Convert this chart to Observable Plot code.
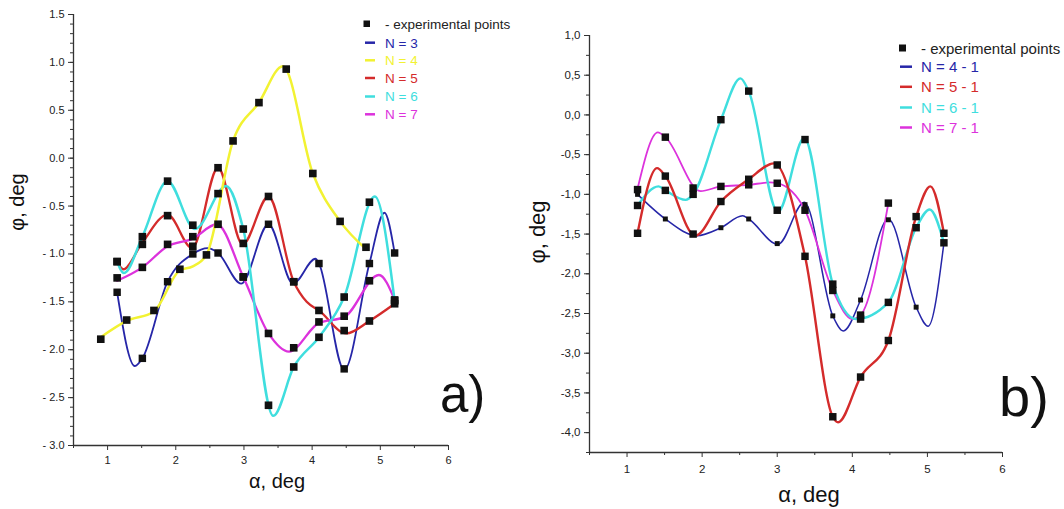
<!DOCTYPE html>
<html><head><meta charset="utf-8">
<script src="https://cdn.jsdelivr.net/npm/d3@7"></script>
<script src="https://cdn.jsdelivr.net/npm/@observablehq/plot@0.6"></script>
<style>
html,body{margin:0;padding:0;background:#fff;}
#wrap{position:relative;width:1064px;height:509px;overflow:hidden;font-family:"Liberation Sans",Arial,sans-serif;}
#pa{position:absolute;left:0;top:0;}
#pb{position:absolute;left:530px;top:0;}
#ov{position:absolute;left:0;top:0;}
</style></head><body>
<div id="wrap"><div id="pa"></div><div id="pb"></div><svg id="ov" width="1064" height="509"></svg></div>
<script>
// ---------- Panel a: experimental points ----------
const anglesA = [1.14, 1.51, 1.88, 2.25, 2.62, 2.99, 3.36, 3.73, 4.10, 4.47, 4.84, 5.21];
const anglesA4 = [0.90, 1.28, 1.68, 2.06, 2.45, 2.84, 3.22, 3.62, 4.01, 4.41, 4.79];
const ptsA_N3 = [-1.40, -2.09, -1.29, -1.00, -0.99, -1.24, -0.69, -1.29, -1.10, -2.20, -1.10, -0.99];
const ptsA_N4 = [-1.89, -1.69, -1.59, -1.16, -1.01, 0.18, 0.58, 0.93, -0.16, -0.66, -0.93];
const ptsA_N5 = [-1.08, -0.90, -0.60, -0.92, -0.10, -0.89, -0.40, -1.29, -1.59, -1.80, -1.70, -1.52];
const ptsA_N6 = [-1.08, -0.82, -0.24, -0.70, -0.37, -0.74, -2.58, -2.18, -1.87, -1.45, -0.46, -1.49];
const ptsA_N7 = [-1.25, -1.14, -0.90, -0.82, -0.69, -1.24, -1.83, -1.98, -1.71, -1.65, -1.28, -1.48];

// ---------- Panel a: fitted curves (knots) ----------
const curveA_N3 = [[1.14,-1.40],[1.40,-2.17],[1.51,-2.09],[1.88,-1.29],[2.25,-1.00],[2.47,-0.94],[2.62,-0.99],[2.96,-1.31],[3.36,-0.69],[3.72,-1.31],[4.05,-1.05],[4.10,-1.10],[4.47,-2.21],[4.84,-1.10],[5.06,-0.57],[5.21,-0.99]];
const curveA_N4 = [[0.90,-1.87],[1.28,-1.70],[1.68,-1.60],[2.06,-1.17],[2.25,-1.13],[2.45,-1.01],[2.84,0.18],[3.22,0.58],[3.57,0.96],[4.01,-0.16],[4.41,-0.66],[4.79,-0.95]];
const curveA_N5 = [[1.14,-1.08],[1.23,-1.16],[1.51,-0.88],[1.88,-0.59],[2.24,-0.94],[2.62,-0.10],[2.98,-0.90],[3.36,-0.40],[3.73,-1.29],[3.92,-1.50],[4.10,-1.59],[4.50,-1.83],[4.84,-1.70],[5.21,-1.52]];
const curveA_N6 = [[1.14,-1.08],[1.24,-1.20],[1.51,-0.82],[1.88,-0.24],[2.28,-0.74],[2.74,-0.29],[2.99,-0.74],[3.43,-2.69],[3.73,-2.18],[4.10,-1.87],[4.47,-1.45],[4.92,-0.40],[5.21,-1.49]];
const curveA_N7 = [[1.14,-1.28],[1.51,-1.14],[1.88,-0.92],[2.25,-0.84],[2.60,-0.69],[2.99,-1.24],[3.36,-1.83],[3.66,-2.02],[4.10,-1.72],[4.47,-1.66],[4.98,-1.22],[5.21,-1.48]];

// ---------- Panel b: experimental points ----------
const anglesB = [1.14, 1.51, 1.88, 2.25, 2.62, 3.00, 3.37, 3.74, 4.11, 4.48, 4.85, 5.22];
const ptsB_N4 = [-1.00, -1.31, -1.50, -1.42, -1.31, -1.62, -1.13, -2.53, -2.33, -1.32, -2.42, -1.61];
const ptsB_N5 = [-1.49, -0.77, -1.50, -1.09, -0.81, -0.63, -1.78, -3.80, -3.30, -2.84, -1.28, -1.49];
const ptsB_N6 = [-1.14, -0.95, -1.00, -0.06, 0.30, -1.20, -0.31, -2.13, -2.57, -2.36, -1.42, -1.61];
const ptsB_N7 = [-0.94, -0.28, -0.92, -0.90, -0.88, -0.86, -1.20, -2.21, -2.52, -1.11];

// ---------- Panel b: fitted curves ----------
const curveB_N4 = [[1.14,-1.00],[1.51,-1.31],[1.93,-1.52],[2.25,-1.42],[2.54,-1.27],[2.62,-1.31],[3.01,-1.63],[3.36,-1.10],[3.74,-2.53],[3.88,-2.72],[4.11,-2.33],[4.48,-1.31],[4.85,-2.42],[5.01,-2.66],[5.22,-1.61]];
const curveB_N5 = [[1.14,-1.49],[1.40,-0.67],[1.51,-0.77],[1.91,-1.52],[2.25,-1.09],[2.62,-0.81],[2.96,-0.61],[3.37,-1.78],[3.74,-3.80],[3.81,-3.87],[4.11,-3.30],[4.48,-2.84],[4.85,-1.28],[5.04,-0.90],[5.22,-1.49]];
const curveB_N6 = [[1.14,-1.14],[1.42,-0.90],[1.51,-0.95],[1.78,-1.07],[1.88,-1.00],[2.25,-0.06],[2.51,0.46],[2.62,0.30],[3.01,-1.22],[3.36,-0.29],[3.74,-2.13],[4.05,-2.57],[4.48,-2.36],[4.85,-1.42],[5.03,-1.19],[5.22,-1.61]];
const curveB_N7 = [[1.14,-0.93],[1.41,-0.22],[1.51,-0.28],[1.98,-0.96],[2.25,-0.90],[2.62,-0.88],[2.90,-0.85],[3.00,-0.86],[3.37,-1.20],[3.74,-2.21],[4.00,-2.57],[4.11,-2.52],[4.48,-1.11]];

// ---------- Labels / ticks ----------
const legendA = ["N = 3", "N = 4", "N = 5", "N = 6", "N = 7"];
const legendB = ["N = 4 - 1", "N = 5 - 1", "N = 6 - 1", "N = 7 - 1"];
const pointsLabel = "- experimental points";
const colorsA = ["#2626a8", "#f2f232", "#d42b2b", "#3fdede", "#dc32dc"];
const colorsB = ["#2626a8", "#d42b2b", "#3fdede", "#dc32dc"];
const xTicks = [1, 2, 3, 4, 5, 6];
const xTickLabels = ["1", "2", "3", "4", "5", "6"];
const xMinor = [0.5, 1.5, 2.5, 3.5, 4.5, 5.5];
const yTicksA = [1.5, 1.0, 0.5, 0, -0.5, -1.0, -1.5, -2.0, -2.5, -3.0];
const yTickLabelsA = ["1.5", "1.0", "0.5", "0.0", "- 0.5", "- 1.0", "- 1.5", "- 2.0", "- 2.5", "- 3.0"];
const yTicksB = [1.0, 0.5, 0, -0.5, -1.0, -1.5, -2.0, -2.5, -3.0, -3.5, -4.0];
const yTickLabelsB = ["1,0", "0,5", "0,0", "-0,5", "-1,0", "-1,5", "-2,0", "-2,5", "-3,0", "-3,5", "-4,0"];
const xTitle = "α, deg";
const yTitle = "φ, deg";

const yMinorA = d3.range(-30, 16, 1).map(v => v / 10);
const yMinorB = d3.range(-17, 5, 1).map(v => v / 4);

const toPts = (xs, ys) => ys.map((y, i) => ({x: xs[i], y}));
const lab = (ticks, labels) => v => labels[ticks.findIndex(t => Math.abs(t - v) < 1e-9)];
const font = "Liberation Sans, Arial, sans-serif";

function axes(yTicks, yLabels, yMinor, xMin, yMin, xPad) {
  return [
    Plot.axisY(yMinor, {tickSize: 3, fill: "none", stroke: "#333"}),
    Plot.axisY(yTicks, {tickSize: 5, tickPadding: 4, tickFormat: lab(yTicks, yLabels), stroke: "#333", fill: "#222"}),
    Plot.axisX(xMinor, {tickSize: 3, fill: "none", stroke: "#333"}),
    Plot.axisX(xTicks, {tickSize: 5, tickPadding: xPad, tickFormat: lab(xTicks, xTickLabels), stroke: "#333", fill: "#222"}),
    Plot.ruleX([xMin], {stroke: "#333", strokeWidth: 1.3}),
    Plot.ruleY([yMin], {stroke: "#333", strokeWidth: 1.3})
  ];
}

const lineOpts = (c, w) => ({x: d => d[0], y: d => d[1], stroke: c, strokeWidth: w, curve: "monotone-x"});
const sq = (data, r) => Plot.dot(data, {x: "x", y: "y", symbol: "square", r, fill: "#111", stroke: "none"});

const plotA = Plot.plot({
  width: 530, height: 509,
  marginLeft: 73, marginRight: 82, marginTop: 14, marginBottom: 64,
  x: {domain: [0.5, 6], label: null},
  y: {domain: [-3, 1.5], label: null},
  style: {fontFamily: font, fontSize: "11px", background: "transparent", color: "#222"},
  marks: [
    ...axes(yTicksA, yTickLabelsA, yMinorA, 0.5, -3, 6),
    Plot.line(curveA_N3, lineOpts(colorsA[0], 1.8)),
    Plot.line(curveA_N5, lineOpts(colorsA[2], 2.3)),
    Plot.line(curveA_N7, lineOpts(colorsA[4], 2.3)),
    Plot.line(curveA_N6, lineOpts(colorsA[3], 2.5)),
    Plot.line(curveA_N4, lineOpts(colorsA[1], 2.5)),
    sq(toPts(anglesA, ptsA_N3), 4.2),
    sq(toPts(anglesA4, ptsA_N4), 4.3),
    sq(toPts(anglesA, ptsA_N5), 4.3),
    sq(toPts(anglesA, ptsA_N6), 4.3),
    sq(toPts(anglesA, ptsA_N7), 4.3)
  ]
});
document.getElementById("pa").appendChild(plotA);

const plotB = Plot.plot({
  width: 534, height: 509,
  marginLeft: 59, marginRight: 62, marginTop: 35, marginBottom: 57,
  x: {domain: [0.5, 6], label: null},
  y: {domain: [-4.25, 1.0], label: null},
  style: {fontFamily: font, fontSize: "11.5px", background: "transparent", color: "#222"},
  marks: [
    ...axes(yTicksB, yTickLabelsB, yMinorB, 0.5, -4.25, 7),
    Plot.line(curveB_N4, lineOpts(colorsB[0], 1.5)),
    Plot.line(curveB_N7, lineOpts(colorsB[3], 1.8)),
    Plot.line(curveB_N6, lineOpts(colorsB[2], 2.4)),
    Plot.line(curveB_N5, lineOpts(colorsB[1], 2.4)),
    sq(toPts(anglesB, ptsB_N4), 2.8),
    sq(toPts(anglesB, ptsB_N5), 4.2),
    sq(toPts(anglesB, ptsB_N6), 4.2),
    sq(toPts(anglesB, ptsB_N7), 4.2)
  ]
});
document.getElementById("pb").appendChild(plotB);

// ---------- Overlay: titles, legends, panel letters ----------
const ov = d3.select("#ov").style("font-family", font);
function txt(x, y, s, size, fill, rot) {
  const t = ov.append("text").attr("x", x).attr("y", y).attr("font-size", size).attr("fill", fill).text(s);
  if (rot) t.attr("transform", `rotate(-90 ${x} ${y})`).attr("text-anchor", "middle");
  return t;
}
// axis titles
txt(277, 488, xTitle, 20, "#111").attr("text-anchor", "middle");
txt(24, 202, yTitle, 20, "#111", true);
txt(809, 502, xTitle, 22, "#111").attr("text-anchor", "middle");
txt(545, 232, yTitle, 22, "#111", true);
// panel letters
txt(440, 412, "a)", 51, "#111");
txt(999, 416, "b)", 56, "#111");
// legend a
ov.append("rect").attr("x", 363.5).attr("y", 20.5).attr("width", 6.5).attr("height", 6.5).attr("fill", "#111");
txt(385, 28.5, pointsLabel, 13.5, "#222");
const rowsA = [42.7, 60.3, 78, 96.5, 114.3];
legendA.forEach((s, i) => {
  ov.append("line").attr("x1", 365).attr("x2", 375).attr("y1", rowsA[i]).attr("y2", rowsA[i]).attr("stroke", colorsA[i]).attr("stroke-width", 2.5);
  txt(385, rowsA[i] + 4.8, s, 13.5, colorsA[i]);
});
// legend b
ov.append("rect").attr("x", 899).attr("y", 44.5).attr("width", 7).attr("height", 7).attr("fill", "#111");
txt(921, 53.5, pointsLabel, 15, "#222");
const rowsB = [66.7, 86.8, 107.5, 127.5];
legendB.forEach((s, i) => {
  ov.append("line").attr("x1", 900).attr("x2", 912).attr("y1", rowsB[i]).attr("y2", rowsB[i]).attr("stroke", colorsB[i]).attr("stroke-width", 2.5);
  txt(921, rowsB[i] + 5.3, s, 15, colorsB[i]);
});
</script>
</body></html>
